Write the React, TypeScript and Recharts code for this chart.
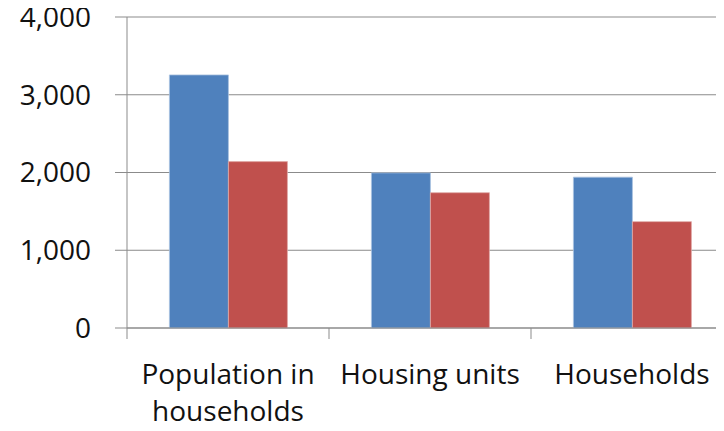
import React from 'react';
import { BarChart, Bar, XAxis, YAxis, CartesianGrid } from 'recharts';

const categories = ['Population in households', 'Housing units', 'Households'];
const seriesBlue = [3255, 1995, 1940];
const seriesRed = [2140, 1740, 1368];
const yTicks = [0, 1000, 2000, 3000, 4000];

const data = categories.map((name, i) => ({ name, blue: seriesBlue[i], red: seriesRed[i] }));

// layout: the plot runs past the right edge of the window, like the cropped original
const CHART_W = 740;
const CHART_H = 431;
const MARGIN = { top: 17, right: 7, bottom: 0, left: 0 };
const Y_AXIS_W = 127;
const X_AXIS_H = 103;
const BAND = (CHART_W - MARGIN.left - MARGIN.right - Y_AXIS_W) / categories.length;

const AXIS_COLOR = '#8b8b8b';
const TEXT_COLOR = '#111111';
const FONT = '"Open Sans", sans-serif';
const FONT_SIZE = 28;
const MAX_LINE_CHARS = 16;

// break a long category name at the last space that fits
const wrap = (s: string) => {
  if (s.length <= MAX_LINE_CHARS) return [s];
  const cut = s.lastIndexOf(' ', MAX_LINE_CHARS);
  return cut > 0 ? [s.slice(0, cut), s.slice(cut + 1)] : [s];
};

const CategoryTick = (props: any) => {
  const { x, y, payload, index } = props;
  const left = x - BAND / 2;
  const right = x + BAND / 2;
  const lines = wrap(String(payload.value));
  return (
    <g>
      <line x1={left} y1={y} x2={left} y2={y + 11} stroke={AXIS_COLOR} />
      {index === categories.length - 1 && (
        <line x1={right} y1={y} x2={right} y2={y + 11} stroke={AXIS_COLOR} />
      )}
      <text x={x} y={y + 56} textAnchor="middle" fill={TEXT_COLOR} fontSize={FONT_SIZE} fontFamily={FONT}>
        {lines.map((l, i) => (
          <tspan key={i} x={x} dy={i === 0 ? 0 : 37}>
            {l}
          </tspan>
        ))}
      </text>
    </g>
  );
};

const fmt = (v: number) => v.toLocaleString('en-US');

export default function App() {
  return (
    <div style={{ margin: -8, width: 724, height: 431, overflow: 'hidden', background: '#fff' }}>
      <BarChart
        width={CHART_W}
        height={CHART_H}
        data={data}
        margin={MARGIN}
        barCategoryGap="21%"
        barGap={0}
      >
        <CartesianGrid vertical={false} stroke={AXIS_COLOR} strokeWidth={1} />
        <XAxis
          dataKey="name"
          height={X_AXIS_H}
          interval={0}
          tickSize={0}
          tickMargin={0}
          axisLine={{ stroke: AXIS_COLOR }}
          tickLine={false}
          tick={<CategoryTick />}
        />
        <YAxis
          width={Y_AXIS_W}
          domain={[0, 4000]}
          ticks={yTicks}
          interval={0}
          tickFormatter={fmt}
          tickSize={12}
          tickMargin={24}
          axisLine={{ stroke: AXIS_COLOR }}
          tickLine={{ stroke: AXIS_COLOR }}
          tick={{ fill: TEXT_COLOR, fontSize: FONT_SIZE, fontFamily: FONT }}
        />
        <Bar dataKey="blue" fill="#4F81BD" stroke="#a9c1e0" strokeWidth={0.8} isAnimationActive={false} />
        <Bar dataKey="red" fill="#C0504D" stroke="#e0a9a7" strokeWidth={0.8} isAnimationActive={false} />
      </BarChart>
    </div>
  );
}
